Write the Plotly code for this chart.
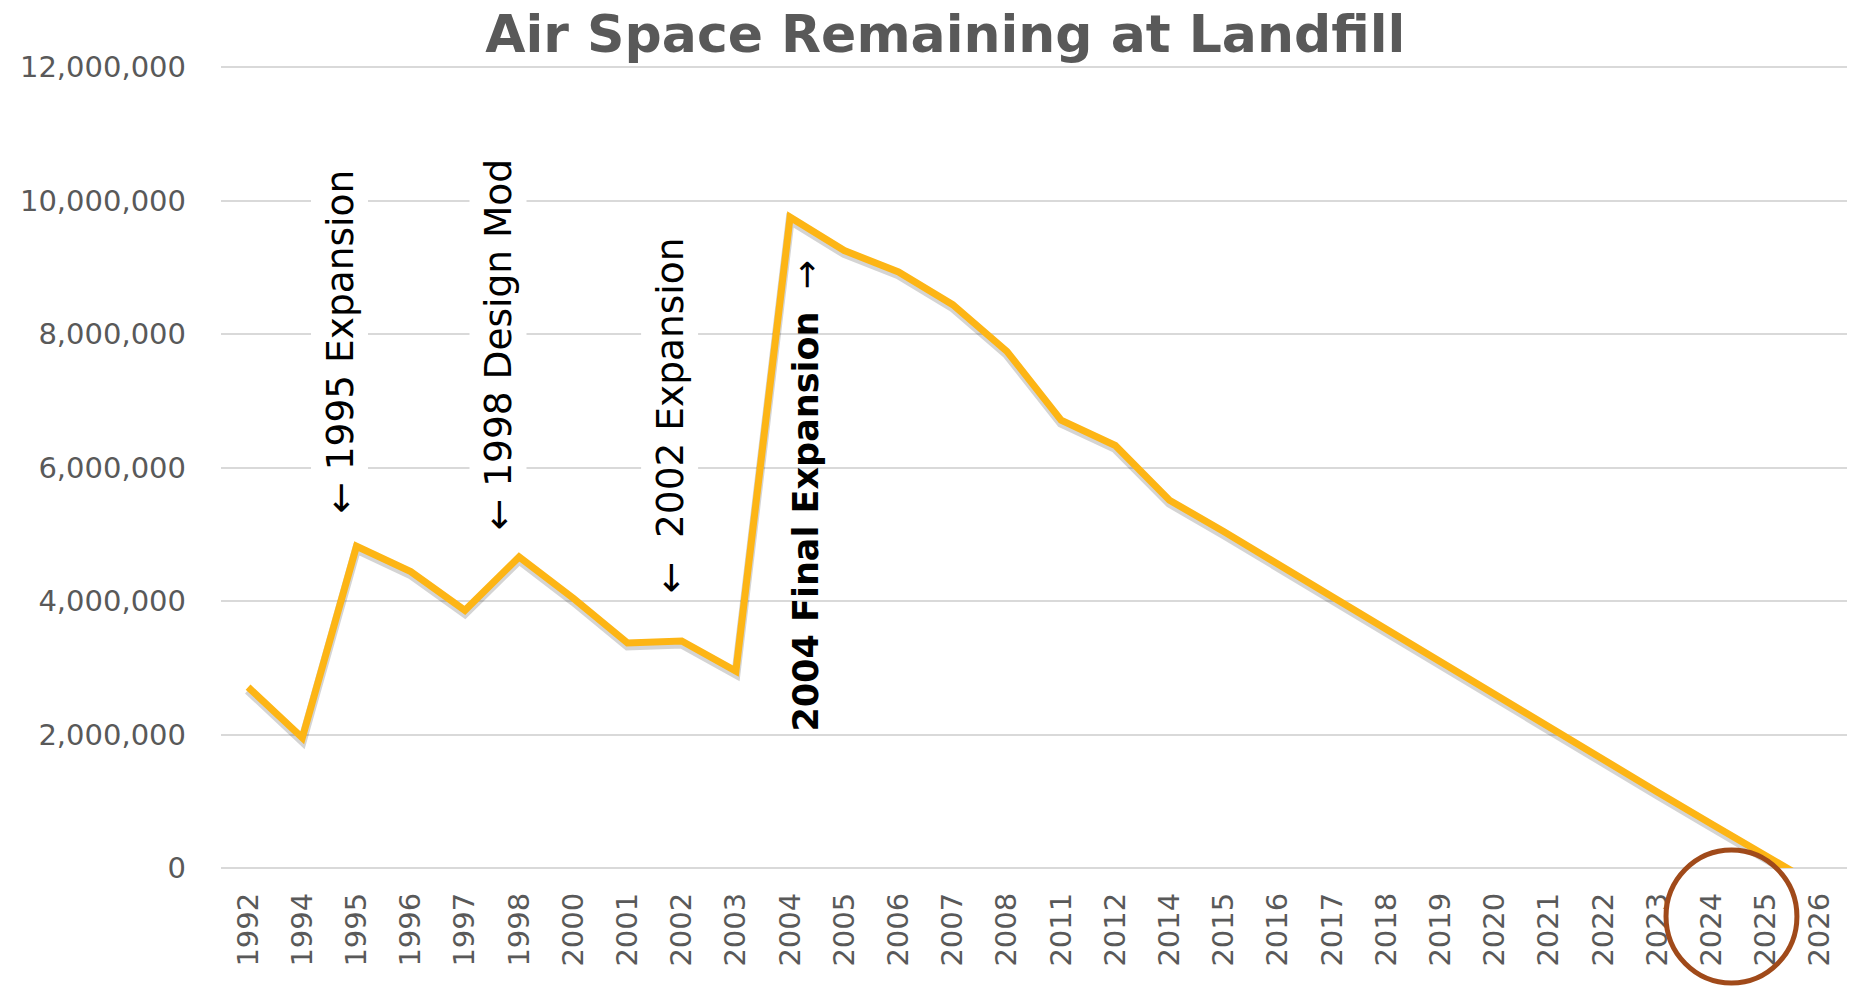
import plotly.graph_objects as go

years = ["1992", "1994", "1995", "1996", "1997", "1998", "2000", "2001", "2002", "2003",
         "2004", "2005", "2006", "2007", "2008", "2011", "2012", "2014", "2015", "2016",
         "2017", "2018", "2019", "2020", "2021", "2022", "2023", "2024", "2025", "2026"]
air_space = [2710000, 1950000, 4820000, 4440000, 3860000, 4660000, 4040000, 3370000, 3400000, 2950000,
             9750000, 9250000, 8930000, 8440000, 7740000, 6710000, 6330000, 5510000, 5040000, 4550000,
             4050000, 3570000, 3080000, 2600000, 2110000, 1630000, 1140000, 660000, 190000, -290000]

y_ticks = [0, 2000000, 4000000, 6000000, 8000000, 10000000, 12000000]
y_labels = ["0", "2,000,000", "4,000,000", "6,000,000", "8,000,000", "10,000,000", "12,000,000"]

title_text = "Air Space Remaining at Landfill"
notes = ["\u2190 1995 Expansion", "\u2190 1998 Design Mod", "\u2190  2002 Expansion",
         "<b>2004 Final Expansion</b>  \u2192"]

W, H = 1850, 990
L, R, T, B = 221, 3, 64, 122
plot_h = H - T - B
y_top = 12000000 * plot_h / 801.0
shadow_shift = 3 * y_top / plot_h

fig = go.Figure()
# invisible carrier trace so the base axis (grid + labels) is drawn
fig.add_trace(go.Scatter(x=years, y=air_space, mode="lines",
                         line=dict(color="rgba(0,0,0,0)", width=0),
                         hoverinfo="skip", showlegend=False))
# soft shadow beneath the line (same data on a slightly shifted overlay axis)
fig.add_trace(go.Scatter(x=years, y=air_space, mode="lines", yaxis="y2",
                         line=dict(color="rgba(40,40,40,0.20)", width=9),
                         hoverinfo="skip", showlegend=False))
fig.add_trace(go.Scatter(x=years, y=air_space, mode="lines", yaxis="y3",
                         line=dict(color="#FDB515", width=7),
                         showlegend=False))

tick_font = dict(family="DejaVu Sans", size=29, color="#595959")
fig.update_layout(
    width=W, height=H,
    margin=dict(l=L, r=R, t=T, b=B),
    paper_bgcolor="white", plot_bgcolor="white",
    title=dict(text="<b>" + title_text + "</b>", x=0.511, xref="container",
               y=0.966, yanchor="middle", xanchor="center",
               font=dict(family="DejaVu Sans", size=52, color="#595959")),
    xaxis=dict(type="category", range=[-0.5, 29.5], tickangle=-90, tickfont=tick_font,
               showgrid=False, showline=False, zeroline=False, ticks="",
               ticklabelstandoff=18),
    yaxis=dict(range=[0, y_top], tickvals=y_ticks, ticktext=y_labels, tickfont=tick_font,
               showgrid=True, gridcolor="#D9D9D9", gridwidth=2,
               zeroline=True, zerolinecolor="#D9D9D9", zerolinewidth=2,
               showline=False, ticks="", ticklabelstandoff=34),
    yaxis2=dict(overlaying="y", range=[shadow_shift, y_top + shadow_shift], visible=False),
    yaxis3=dict(overlaying="y", range=[0, y_top], visible=False),
)

ann_pos = [(0.0726, 0.6548), (0.1704, 0.6504), (0.2761, 0.5630), (0.3598, 0.4632)]
ann_size = [37.5, 37.5, 37.5, 35]
for i, (txt, (ax_, ay_)) in enumerate(zip(notes, ann_pos)):
    fig.add_annotation(text=txt, x=ax_, y=ay_, xref="paper", yref="paper",
                       xanchor="center", yanchor="middle",
                       showarrow=False, textangle=-90,
                       font=dict(family="DejaVu Sans", size=ann_size[i], color="black"),
                       bgcolor="white" if i < 3 else "rgba(0,0,0,0)", borderpad=6)

# circle highlighting the end year
fig.add_shape(type="circle", xref="paper", yref="paper",
              x0=0.8887, x1=0.9692, y0=(868 - 983) / plot_h,
              y1=(868 - 850) / plot_h,
              line=dict(color="#A04A1A", width=5))

fig.write_html("out.html", config={"displayModeBar": False},
               post_script="document.body.style.margin='0';")
